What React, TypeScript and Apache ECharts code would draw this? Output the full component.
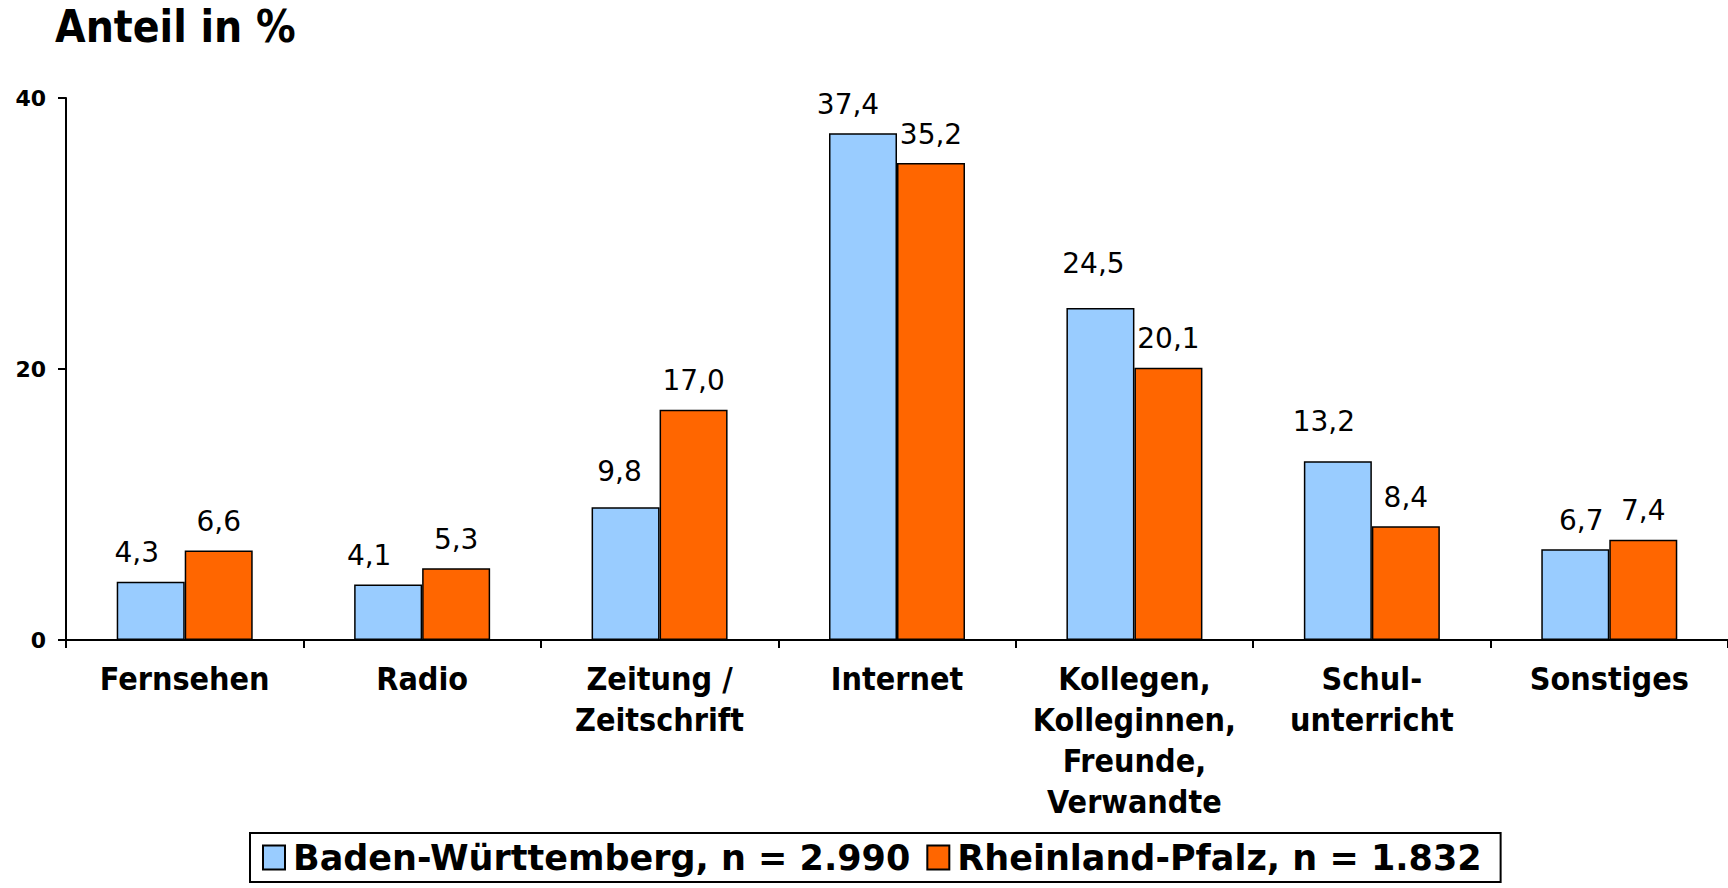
import React, { useEffect, useRef } from "react";
import * as echarts from "echarts";

const categories = [
  "Fernsehen",
  "Radio",
  "Zeitung /\nZeitschrift",
  "Internet",
  "Kollegen,\nKolleginnen,\nFreunde,\nVerwandte",
  "Schul-\nunterricht",
  "Sonstiges",
];
const seriesNames = ["Baden-Württemberg, n = 2.990", "Rheinland-Pfalz, n = 1.832"];
const bwValues = [4.3, 4.1, 9.8, 37.4, 24.5, 13.2, 6.7];
const rpValues = [6.6, 5.3, 17.0, 35.2, 20.1, 8.4, 7.4];
const yTicks = [0, 20, 40];
const titleText = "Anteil in %";

// label placement tweaks (style only), as in the original's data labels
const bwLabelShift = [
  [-14, 0],
  [-19, 0],
  [-6, -7],
  [-15, 0],
  [-7, -16],
  [-14, -11],
  [6, 0],
];

const BOLD_COND = "'DejaVu Sans Condensed', 'DejaVu Sans', sans-serif";
const BOLD_FONT = "'DejaVu Sans', sans-serif";
const VALUE_FONT = "'DejaVu Sans', sans-serif";

export default function App() {
  const ref = useRef<HTMLDivElement>(null);
  useEffect(() => {
    if (!ref.current) return;
    const chart = echarts.init(ref.current, undefined, { renderer: "svg" });
    const label = {
      show: true,
      position: "top" as const,
      distance: 15,
      fontFamily: VALUE_FONT,
      fontSize: 28,
      color: "#000",
      formatter: (p: any) => Number(p.value).toFixed(1).replace(".", ","),
    };
    chart.setOption({
      animation: false,
      backgroundColor: "#fff",
      title: {
        text: titleText,
        left: 55,
        top: 4,
        padding: 0,
        textStyle: { fontFamily: BOLD_COND, fontSize: 44, fontWeight: "bold", color: "#000" },
      },
      grid: { left: 66, right: 0, top: 98, bottom: 248, containLabel: false },
      legend: {
        left: 250,
        bottom: 6,
        orient: "horizontal",
        itemWidth: 22,
        itemHeight: 24,
        itemGap: 16,
        padding: [7, 19, 7, 12],
        borderColor: "#000",
        borderWidth: 2,
        icon: "rect",
        textStyle: { fontFamily: BOLD_FONT, fontSize: 35, fontWeight: "bold", color: "#000", padding: [0, 0, 0, 3] },
        data: seriesNames,
      },
      xAxis: {
        type: "category",
        data: categories,
        axisLine: { lineStyle: { color: "#000", width: 2 } },
        axisTick: { show: true, alignWithLabel: false, length: 8, lineStyle: { color: "#000", width: 2 } },
        axisLabel: {
          interval: 0,
          margin: 18,
          fontFamily: BOLD_COND,
          fontSize: 32,
          fontWeight: "bold",
          color: "#000",
          lineHeight: 41,
        },
      },
      yAxis: {
        type: "value",
        min: yTicks[0],
        max: yTicks[yTicks.length - 1],
        interval: yTicks[1] - yTicks[0],
        axisLine: { show: true, lineStyle: { color: "#000", width: 2 } },
        axisTick: { show: true, length: 8, lineStyle: { color: "#000", width: 2 } },
        splitLine: { show: false },
        axisLabel: {
          margin: 20,
          fontFamily: BOLD_FONT,
          fontSize: 22,
          fontWeight: "bold",
          color: "#000",
        },
      },
      series: [
        {
          name: seriesNames[0],
          type: "bar",
          data: bwValues.map((v, i) => ({ value: v, label: { offset: bwLabelShift[i] } })),
          barWidth: 68,
          barGap: "0%",
          itemStyle: { color: "#99CCFF", borderColor: "#000", borderWidth: 1.5 },
          label,
        },
        {
          name: seriesNames[1],
          type: "bar",
          data: rpValues,
          barWidth: 68,
          barGap: "0%",
          itemStyle: { color: "#FF6600", borderColor: "#000", borderWidth: 1.5 },
          label,
        },
      ],
    });
    return () => chart.dispose();
  }, []);
  return (
    <div
      ref={ref}
      style={{ position: "fixed", left: 0, top: 0, width: 1728, height: 888, background: "#fff" }}
    />
  );
}
